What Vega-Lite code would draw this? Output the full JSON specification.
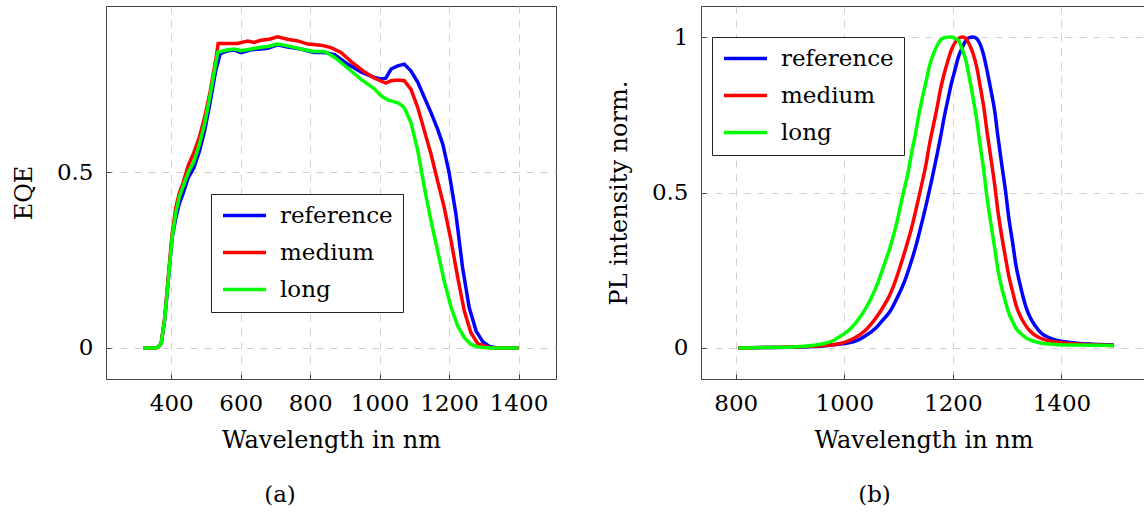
{
  "$schema": "https://vega.github.io/schema/vega-lite/v6.json",
  "padding": {"left": 11, "top": 5, "right": 0, "bottom": 0},
  "bounds": "flush",
  "spacing": 145,
  "background": "#ffffff",
  "config": {
    "font": "DejaVu Serif",
    "view": {"stroke": "#444444", "strokeWidth": 1},
    "axis": {
      "labelFont": "DejaVu Serif", "labelFontSize": 23, "labelColor": "#000000",
      "titleFont": "DejaVu Serif", "titleFontSize": 24, "titleFontWeight": "normal", "titleColor": "#000000",
      "grid": true, "gridDash": [7, 7], "gridColor": "#d0d0d0", "gridWidth": 1,
      "domain": false, "tickSize": -5, "tickColor": "#444444", "tickWidth": 1, "labelPadding": 18,
      "labelOverlap": false, "labelFlush": false
    },
    "axisX": {"titleY": 68, "titleBaseline": "alphabetic"},
    "axisY": {"titleX": -82, "titleBaseline": "middle", "titleAngle": -90, "titleAlign": "center"},
    "legend": {
      "orient": "none", "labelFont": "DejaVu Serif", "labelFontSize": 23, "labelColor": "#000000",
      "symbolType": "stroke", "symbolStrokeWidth": 3.5, "symbolSize": 1849, "strokeColor": "#222222",
      "fillColor": "#ffffff", "padding": 10, "labelOffset": 12, "rowPadding": 13, "labelLimit": 300,
      "clipHeight": 23
    },
    "title": {"font": "DejaVu Serif", "fontSize": 23, "fontWeight": "normal", "color": "#000000"}
  },
  "resolve": {"legend": {"color": "independent"}, "scale": {"x": "independent", "y": "independent"}},
  "datasets": {
    "eqe": [
      {"series": "reference", "wl": 320, "val": 0}, {"series": "reference", "wl": 340, "val": 0}, {"series": "reference", "wl": 355, "val": 0},
      {"series": "reference", "wl": 363, "val": 0.003}, {"series": "reference", "wl": 371, "val": 0.013}, {"series": "reference", "wl": 381, "val": 0.08},
      {"series": "reference", "wl": 392, "val": 0.2}, {"series": "reference", "wl": 402, "val": 0.31}, {"series": "reference", "wl": 413, "val": 0.37},
      {"series": "reference", "wl": 423, "val": 0.41}, {"series": "reference", "wl": 434, "val": 0.44}, {"series": "reference", "wl": 449, "val": 0.485},
      {"series": "reference", "wl": 465, "val": 0.513}, {"series": "reference", "wl": 481, "val": 0.56}, {"series": "reference", "wl": 496, "val": 0.618},
      {"series": "reference", "wl": 512, "val": 0.70}, {"series": "reference", "wl": 528, "val": 0.79}, {"series": "reference", "wl": 541, "val": 0.838},
      {"series": "reference", "wl": 560, "val": 0.845}, {"series": "reference", "wl": 582, "val": 0.848}, {"series": "reference", "wl": 601, "val": 0.841},
      {"series": "reference", "wl": 630, "val": 0.849}, {"series": "reference", "wl": 658, "val": 0.851}, {"series": "reference", "wl": 678, "val": 0.853},
      {"series": "reference", "wl": 706, "val": 0.863}, {"series": "reference", "wl": 735, "val": 0.857}, {"series": "reference", "wl": 773, "val": 0.851},
      {"series": "reference", "wl": 812, "val": 0.841}, {"series": "reference", "wl": 841, "val": 0.841}, {"series": "reference", "wl": 870, "val": 0.835},
      {"series": "reference", "wl": 908, "val": 0.808}, {"series": "reference", "wl": 946, "val": 0.786}, {"series": "reference", "wl": 985, "val": 0.770},
      {"series": "reference", "wl": 1004, "val": 0.766}, {"series": "reference", "wl": 1018, "val": 0.768}, {"series": "reference", "wl": 1033, "val": 0.794},
      {"series": "reference", "wl": 1052, "val": 0.803}, {"series": "reference", "wl": 1071, "val": 0.808}, {"series": "reference", "wl": 1090, "val": 0.789},
      {"series": "reference", "wl": 1110, "val": 0.756}, {"series": "reference", "wl": 1129, "val": 0.713}, {"series": "reference", "wl": 1148, "val": 0.670},
      {"series": "reference", "wl": 1167, "val": 0.623}, {"series": "reference", "wl": 1182, "val": 0.580}, {"series": "reference", "wl": 1200, "val": 0.50},
      {"series": "reference", "wl": 1220, "val": 0.38}, {"series": "reference", "wl": 1239, "val": 0.228}, {"series": "reference", "wl": 1258, "val": 0.115},
      {"series": "reference", "wl": 1278, "val": 0.048}, {"series": "reference", "wl": 1297, "val": 0.018}, {"series": "reference", "wl": 1316, "val": 0.004},
      {"series": "reference", "wl": 1340, "val": 0}, {"series": "reference", "wl": 1370, "val": 0}, {"series": "reference", "wl": 1400, "val": 0},

      {"series": "medium", "wl": 320, "val": 0}, {"series": "medium", "wl": 340, "val": 0}, {"series": "medium", "wl": 355, "val": 0},
      {"series": "medium", "wl": 363, "val": 0.003}, {"series": "medium", "wl": 371, "val": 0.013}, {"series": "medium", "wl": 381, "val": 0.085},
      {"series": "medium", "wl": 392, "val": 0.21}, {"series": "medium", "wl": 402, "val": 0.32}, {"series": "medium", "wl": 413, "val": 0.40},
      {"series": "medium", "wl": 423, "val": 0.44}, {"series": "medium", "wl": 434, "val": 0.47}, {"series": "medium", "wl": 449, "val": 0.52},
      {"series": "medium", "wl": 465, "val": 0.556}, {"series": "medium", "wl": 481, "val": 0.60}, {"series": "medium", "wl": 496, "val": 0.656},
      {"series": "medium", "wl": 512, "val": 0.73}, {"series": "medium", "wl": 528, "val": 0.82}, {"series": "medium", "wl": 535, "val": 0.867},
      {"series": "medium", "wl": 560, "val": 0.867}, {"series": "medium", "wl": 591, "val": 0.867}, {"series": "medium", "wl": 620, "val": 0.874},
      {"series": "medium", "wl": 639, "val": 0.870}, {"series": "medium", "wl": 658, "val": 0.876}, {"series": "medium", "wl": 682, "val": 0.879},
      {"series": "medium", "wl": 706, "val": 0.886}, {"series": "medium", "wl": 735, "val": 0.879}, {"series": "medium", "wl": 764, "val": 0.874},
      {"series": "medium", "wl": 793, "val": 0.865}, {"series": "medium", "wl": 831, "val": 0.862}, {"series": "medium", "wl": 860, "val": 0.855},
      {"series": "medium", "wl": 889, "val": 0.841}, {"series": "medium", "wl": 918, "val": 0.815}, {"series": "medium", "wl": 956, "val": 0.786},
      {"series": "medium", "wl": 985, "val": 0.768}, {"series": "medium", "wl": 1004, "val": 0.760}, {"series": "medium", "wl": 1018, "val": 0.754},
      {"series": "medium", "wl": 1033, "val": 0.761}, {"series": "medium", "wl": 1052, "val": 0.763}, {"series": "medium", "wl": 1071, "val": 0.761},
      {"series": "medium", "wl": 1090, "val": 0.737}, {"series": "medium", "wl": 1110, "val": 0.684}, {"series": "medium", "wl": 1129, "val": 0.618},
      {"series": "medium", "wl": 1148, "val": 0.552}, {"series": "medium", "wl": 1167, "val": 0.475}, {"series": "medium", "wl": 1186, "val": 0.40},
      {"series": "medium", "wl": 1206, "val": 0.304}, {"series": "medium", "wl": 1225, "val": 0.20}, {"series": "medium", "wl": 1244, "val": 0.105},
      {"series": "medium", "wl": 1263, "val": 0.043}, {"series": "medium", "wl": 1283, "val": 0.012}, {"series": "medium", "wl": 1316, "val": 0.001},
      {"series": "medium", "wl": 1340, "val": 0}, {"series": "medium", "wl": 1370, "val": 0}, {"series": "medium", "wl": 1400, "val": 0},

      {"series": "long", "wl": 320, "val": 0}, {"series": "long", "wl": 340, "val": 0}, {"series": "long", "wl": 355, "val": 0},
      {"series": "long", "wl": 363, "val": 0.003}, {"series": "long", "wl": 371, "val": 0.013}, {"series": "long", "wl": 381, "val": 0.082},
      {"series": "long", "wl": 392, "val": 0.2}, {"series": "long", "wl": 402, "val": 0.31}, {"series": "long", "wl": 413, "val": 0.385},
      {"series": "long", "wl": 423, "val": 0.43}, {"series": "long", "wl": 434, "val": 0.46}, {"series": "long", "wl": 449, "val": 0.50},
      {"series": "long", "wl": 465, "val": 0.53}, {"series": "long", "wl": 481, "val": 0.58}, {"series": "long", "wl": 496, "val": 0.637},
      {"series": "long", "wl": 512, "val": 0.72}, {"series": "long", "wl": 528, "val": 0.81}, {"series": "long", "wl": 534, "val": 0.842},
      {"series": "long", "wl": 560, "val": 0.848}, {"series": "long", "wl": 582, "val": 0.851}, {"series": "long", "wl": 601, "val": 0.846},
      {"series": "long", "wl": 630, "val": 0.851}, {"series": "long", "wl": 658, "val": 0.856}, {"series": "long", "wl": 678, "val": 0.858},
      {"series": "long", "wl": 706, "val": 0.865}, {"series": "long", "wl": 735, "val": 0.860}, {"series": "long", "wl": 773, "val": 0.851},
      {"series": "long", "wl": 812, "val": 0.844}, {"series": "long", "wl": 841, "val": 0.844}, {"series": "long", "wl": 870, "val": 0.828},
      {"series": "long", "wl": 908, "val": 0.797}, {"series": "long", "wl": 946, "val": 0.765}, {"series": "long", "wl": 985, "val": 0.738},
      {"series": "long", "wl": 1004, "val": 0.718}, {"series": "long", "wl": 1023, "val": 0.706}, {"series": "long", "wl": 1038, "val": 0.702},
      {"series": "long", "wl": 1052, "val": 0.698}, {"series": "long", "wl": 1062, "val": 0.692}, {"series": "long", "wl": 1071, "val": 0.684},
      {"series": "long", "wl": 1090, "val": 0.642}, {"series": "long", "wl": 1110, "val": 0.561}, {"series": "long", "wl": 1129, "val": 0.456},
      {"series": "long", "wl": 1148, "val": 0.362}, {"series": "long", "wl": 1167, "val": 0.276}, {"series": "long", "wl": 1186, "val": 0.19},
      {"series": "long", "wl": 1206, "val": 0.115}, {"series": "long", "wl": 1225, "val": 0.062}, {"series": "long", "wl": 1244, "val": 0.029},
      {"series": "long", "wl": 1263, "val": 0.010}, {"series": "long", "wl": 1283, "val": 0.003}, {"series": "long", "wl": 1300, "val": 0.001},
      {"series": "long", "wl": 1320, "val": 0}, {"series": "long", "wl": 1360, "val": 0}, {"series": "long", "wl": 1400, "val": 0}
    ],
    "pl": [
      {"series": "reference", "wl": 805, "val": 0}, {"series": "reference", "wl": 850, "val": 0.001}, {"series": "reference", "wl": 900, "val": 0.002},
      {"series": "reference", "wl": 950, "val": 0.005}, {"series": "reference", "wl": 980, "val": 0.01}, {"series": "reference", "wl": 1000, "val": 0.014},
      {"series": "reference", "wl": 1018, "val": 0.02}, {"series": "reference", "wl": 1040, "val": 0.04}, {"series": "reference", "wl": 1058, "val": 0.064},
      {"series": "reference", "wl": 1070, "val": 0.088}, {"series": "reference", "wl": 1084, "val": 0.117}, {"series": "reference", "wl": 1097, "val": 0.16},
      {"series": "reference", "wl": 1111, "val": 0.214}, {"series": "reference", "wl": 1121, "val": 0.265}, {"series": "reference", "wl": 1131, "val": 0.322},
      {"series": "reference", "wl": 1141, "val": 0.39}, {"series": "reference", "wl": 1151, "val": 0.462}, {"series": "reference", "wl": 1161, "val": 0.54},
      {"series": "reference", "wl": 1171, "val": 0.623}, {"series": "reference", "wl": 1178, "val": 0.685}, {"series": "reference", "wl": 1184, "val": 0.742},
      {"series": "reference", "wl": 1191, "val": 0.80}, {"series": "reference", "wl": 1197, "val": 0.849}, {"series": "reference", "wl": 1204, "val": 0.895},
      {"series": "reference", "wl": 1210, "val": 0.935}, {"series": "reference", "wl": 1217, "val": 0.965}, {"series": "reference", "wl": 1224, "val": 0.989},
      {"series": "reference", "wl": 1230, "val": 0.998}, {"series": "reference", "wl": 1237, "val": 1.0}, {"series": "reference", "wl": 1244, "val": 0.995},
      {"series": "reference", "wl": 1250, "val": 0.978}, {"series": "reference", "wl": 1257, "val": 0.94}, {"series": "reference", "wl": 1263, "val": 0.892},
      {"series": "reference", "wl": 1270, "val": 0.83}, {"series": "reference", "wl": 1277, "val": 0.763}, {"series": "reference", "wl": 1283, "val": 0.68},
      {"series": "reference", "wl": 1290, "val": 0.591}, {"series": "reference", "wl": 1297, "val": 0.505}, {"series": "reference", "wl": 1303, "val": 0.419},
      {"series": "reference", "wl": 1310, "val": 0.34}, {"series": "reference", "wl": 1316, "val": 0.268}, {"series": "reference", "wl": 1323, "val": 0.21},
      {"series": "reference", "wl": 1330, "val": 0.16}, {"series": "reference", "wl": 1336, "val": 0.125}, {"series": "reference", "wl": 1343, "val": 0.096},
      {"series": "reference", "wl": 1353, "val": 0.068}, {"series": "reference", "wl": 1363, "val": 0.047}, {"series": "reference", "wl": 1376, "val": 0.034},
      {"series": "reference", "wl": 1389, "val": 0.026}, {"series": "reference", "wl": 1409, "val": 0.019}, {"series": "reference", "wl": 1429, "val": 0.015},
      {"series": "reference", "wl": 1460, "val": 0.012}, {"series": "reference", "wl": 1496, "val": 0.01},

      {"series": "medium", "wl": 805, "val": 0}, {"series": "medium", "wl": 850, "val": 0.001}, {"series": "medium", "wl": 900, "val": 0.003},
      {"series": "medium", "wl": 950, "val": 0.006}, {"series": "medium", "wl": 978, "val": 0.01}, {"series": "medium", "wl": 1000, "val": 0.018},
      {"series": "medium", "wl": 1018, "val": 0.031}, {"series": "medium", "wl": 1038, "val": 0.055}, {"series": "medium", "wl": 1058, "val": 0.096},
      {"series": "medium", "wl": 1071, "val": 0.13}, {"series": "medium", "wl": 1084, "val": 0.171}, {"series": "medium", "wl": 1094, "val": 0.215},
      {"series": "medium", "wl": 1104, "val": 0.268}, {"series": "medium", "wl": 1114, "val": 0.325}, {"series": "medium", "wl": 1124, "val": 0.386},
      {"series": "medium", "wl": 1134, "val": 0.46}, {"series": "medium", "wl": 1144, "val": 0.537}, {"series": "medium", "wl": 1151, "val": 0.595},
      {"series": "medium", "wl": 1157, "val": 0.656}, {"series": "medium", "wl": 1164, "val": 0.715}, {"series": "medium", "wl": 1171, "val": 0.774},
      {"series": "medium", "wl": 1177, "val": 0.83}, {"series": "medium", "wl": 1184, "val": 0.882}, {"series": "medium", "wl": 1191, "val": 0.925},
      {"series": "medium", "wl": 1197, "val": 0.957}, {"series": "medium", "wl": 1204, "val": 0.982}, {"series": "medium", "wl": 1210, "val": 0.995},
      {"series": "medium", "wl": 1218, "val": 1.0}, {"series": "medium", "wl": 1224, "val": 0.995}, {"series": "medium", "wl": 1230, "val": 0.978},
      {"series": "medium", "wl": 1237, "val": 0.948}, {"series": "medium", "wl": 1244, "val": 0.903}, {"series": "medium", "wl": 1250, "val": 0.845},
      {"series": "medium", "wl": 1257, "val": 0.774}, {"series": "medium", "wl": 1263, "val": 0.695}, {"series": "medium", "wl": 1270, "val": 0.612},
      {"series": "medium", "wl": 1277, "val": 0.525}, {"series": "medium", "wl": 1283, "val": 0.44}, {"series": "medium", "wl": 1290, "val": 0.36},
      {"series": "medium", "wl": 1297, "val": 0.29}, {"series": "medium", "wl": 1303, "val": 0.232}, {"series": "medium", "wl": 1310, "val": 0.182},
      {"series": "medium", "wl": 1316, "val": 0.14}, {"series": "medium", "wl": 1323, "val": 0.107}, {"series": "medium", "wl": 1333, "val": 0.075},
      {"series": "medium", "wl": 1343, "val": 0.053}, {"series": "medium", "wl": 1356, "val": 0.036}, {"series": "medium", "wl": 1370, "val": 0.026},
      {"series": "medium", "wl": 1390, "val": 0.019}, {"series": "medium", "wl": 1409, "val": 0.015}, {"series": "medium", "wl": 1450, "val": 0.011},
      {"series": "medium", "wl": 1496, "val": 0.008},

      {"series": "long", "wl": 805, "val": 0}, {"series": "long", "wl": 850, "val": 0.001}, {"series": "long", "wl": 880, "val": 0.002},
      {"series": "long", "wl": 912, "val": 0.004}, {"series": "long", "wl": 940, "val": 0.008}, {"series": "long", "wl": 965, "val": 0.015},
      {"series": "long", "wl": 980, "val": 0.024}, {"series": "long", "wl": 992, "val": 0.037}, {"series": "long", "wl": 1005, "val": 0.052},
      {"series": "long", "wl": 1018, "val": 0.074}, {"series": "long", "wl": 1028, "val": 0.097}, {"series": "long", "wl": 1038, "val": 0.123},
      {"series": "long", "wl": 1048, "val": 0.155}, {"series": "long", "wl": 1058, "val": 0.193}, {"series": "long", "wl": 1068, "val": 0.24},
      {"series": "long", "wl": 1078, "val": 0.29}, {"series": "long", "wl": 1085, "val": 0.327}, {"series": "long", "wl": 1091, "val": 0.365},
      {"series": "long", "wl": 1098, "val": 0.413}, {"series": "long", "wl": 1104, "val": 0.462}, {"series": "long", "wl": 1111, "val": 0.515},
      {"series": "long", "wl": 1118, "val": 0.569}, {"series": "long", "wl": 1124, "val": 0.628}, {"series": "long", "wl": 1131, "val": 0.688},
      {"series": "long", "wl": 1137, "val": 0.747}, {"series": "long", "wl": 1144, "val": 0.806}, {"series": "long", "wl": 1151, "val": 0.86},
      {"series": "long", "wl": 1157, "val": 0.908}, {"series": "long", "wl": 1164, "val": 0.945}, {"series": "long", "wl": 1171, "val": 0.973},
      {"series": "long", "wl": 1177, "val": 0.99}, {"series": "long", "wl": 1184, "val": 0.998}, {"series": "long", "wl": 1195, "val": 1.0},
      {"series": "long", "wl": 1203, "val": 0.997}, {"series": "long", "wl": 1210, "val": 0.99}, {"series": "long", "wl": 1217, "val": 0.962},
      {"series": "long", "wl": 1224, "val": 0.925}, {"series": "long", "wl": 1230, "val": 0.872}, {"series": "long", "wl": 1237, "val": 0.806},
      {"series": "long", "wl": 1244, "val": 0.733}, {"series": "long", "wl": 1250, "val": 0.656}, {"series": "long", "wl": 1257, "val": 0.57},
      {"series": "long", "wl": 1263, "val": 0.483}, {"series": "long", "wl": 1270, "val": 0.40}, {"series": "long", "wl": 1277, "val": 0.322},
      {"series": "long", "wl": 1283, "val": 0.252}, {"series": "long", "wl": 1290, "val": 0.193}, {"series": "long", "wl": 1297, "val": 0.148},
      {"series": "long", "wl": 1303, "val": 0.112}, {"series": "long", "wl": 1310, "val": 0.085}, {"series": "long", "wl": 1316, "val": 0.064},
      {"series": "long", "wl": 1326, "val": 0.045}, {"series": "long", "wl": 1336, "val": 0.031}, {"series": "long", "wl": 1350, "val": 0.021},
      {"series": "long", "wl": 1363, "val": 0.015}, {"series": "long", "wl": 1390, "val": 0.011}, {"series": "long", "wl": 1420, "val": 0.009},
      {"series": "long", "wl": 1496, "val": 0.008}
    ]
  },
  "hconcat": [
    {
      "width": 450,
      "height": 373,
      "data": {"name": "eqe"},
      "title": {"text": "(a)", "orient": "bottom", "anchor": "middle", "offset": 32, "dx": -51},
      "mark": {"type": "line", "strokeWidth": 3.5, "clip": true},
      "encoding": {
        "x": {"field": "wl", "type": "quantitative",
              "scale": {"domain": [212, 1508], "nice": false, "zero": false},
              "axis": {"values": [400, 600, 800, 1000, 1200, 1400], "format": "d", "title": "Wavelength in nm"}},
        "y": {"field": "val", "type": "quantitative",
              "scale": {"domain": [-0.0885, 0.9735], "nice": false, "zero": false},
              "axis": {"values": [0, 0.5], "format": "~g", "title": "EQE"}},
        "color": {"field": "series", "type": "nominal", "sort": null,
                  "scale": {"domain": ["reference", "medium", "long"], "range": ["#0000ff", "#ff0000", "#00ff00"]},
                  "legend": {"title": null, "orient": "none", "legendX": 105, "legendY": 188}}
      }
    },
    {
      "width": 445,
      "height": 373,
      "data": {"name": "pl"},
      "title": {"text": "(b)", "orient": "bottom", "anchor": "middle", "offset": 32, "dx": -49},
      "mark": {"type": "line", "strokeWidth": 3.5, "clip": true, "interpolate": "monotone"},
      "encoding": {
        "x": {"field": "wl", "type": "quantitative",
              "scale": {"domain": [736, 1555.8], "nice": false, "zero": false},
              "axis": {"values": [800, 1000, 1200, 1400], "format": "d", "title": "Wavelength in nm"}},
        "y": {"field": "val", "type": "quantitative",
              "scale": {"domain": [-0.1, 1.1], "nice": false, "zero": false},
              "axis": {"values": [0, 0.5, 1], "format": "~g", "title": "PL intensity norm."}},
        "color": {"field": "series", "type": "nominal", "sort": null,
                  "scale": {"domain": ["reference", "medium", "long"], "range": ["#0000ff", "#ff0000", "#00ff00"]},
                  "legend": {"title": null, "orient": "none", "legendX": 11, "legendY": 31}}
      }
    }
  ]
}
